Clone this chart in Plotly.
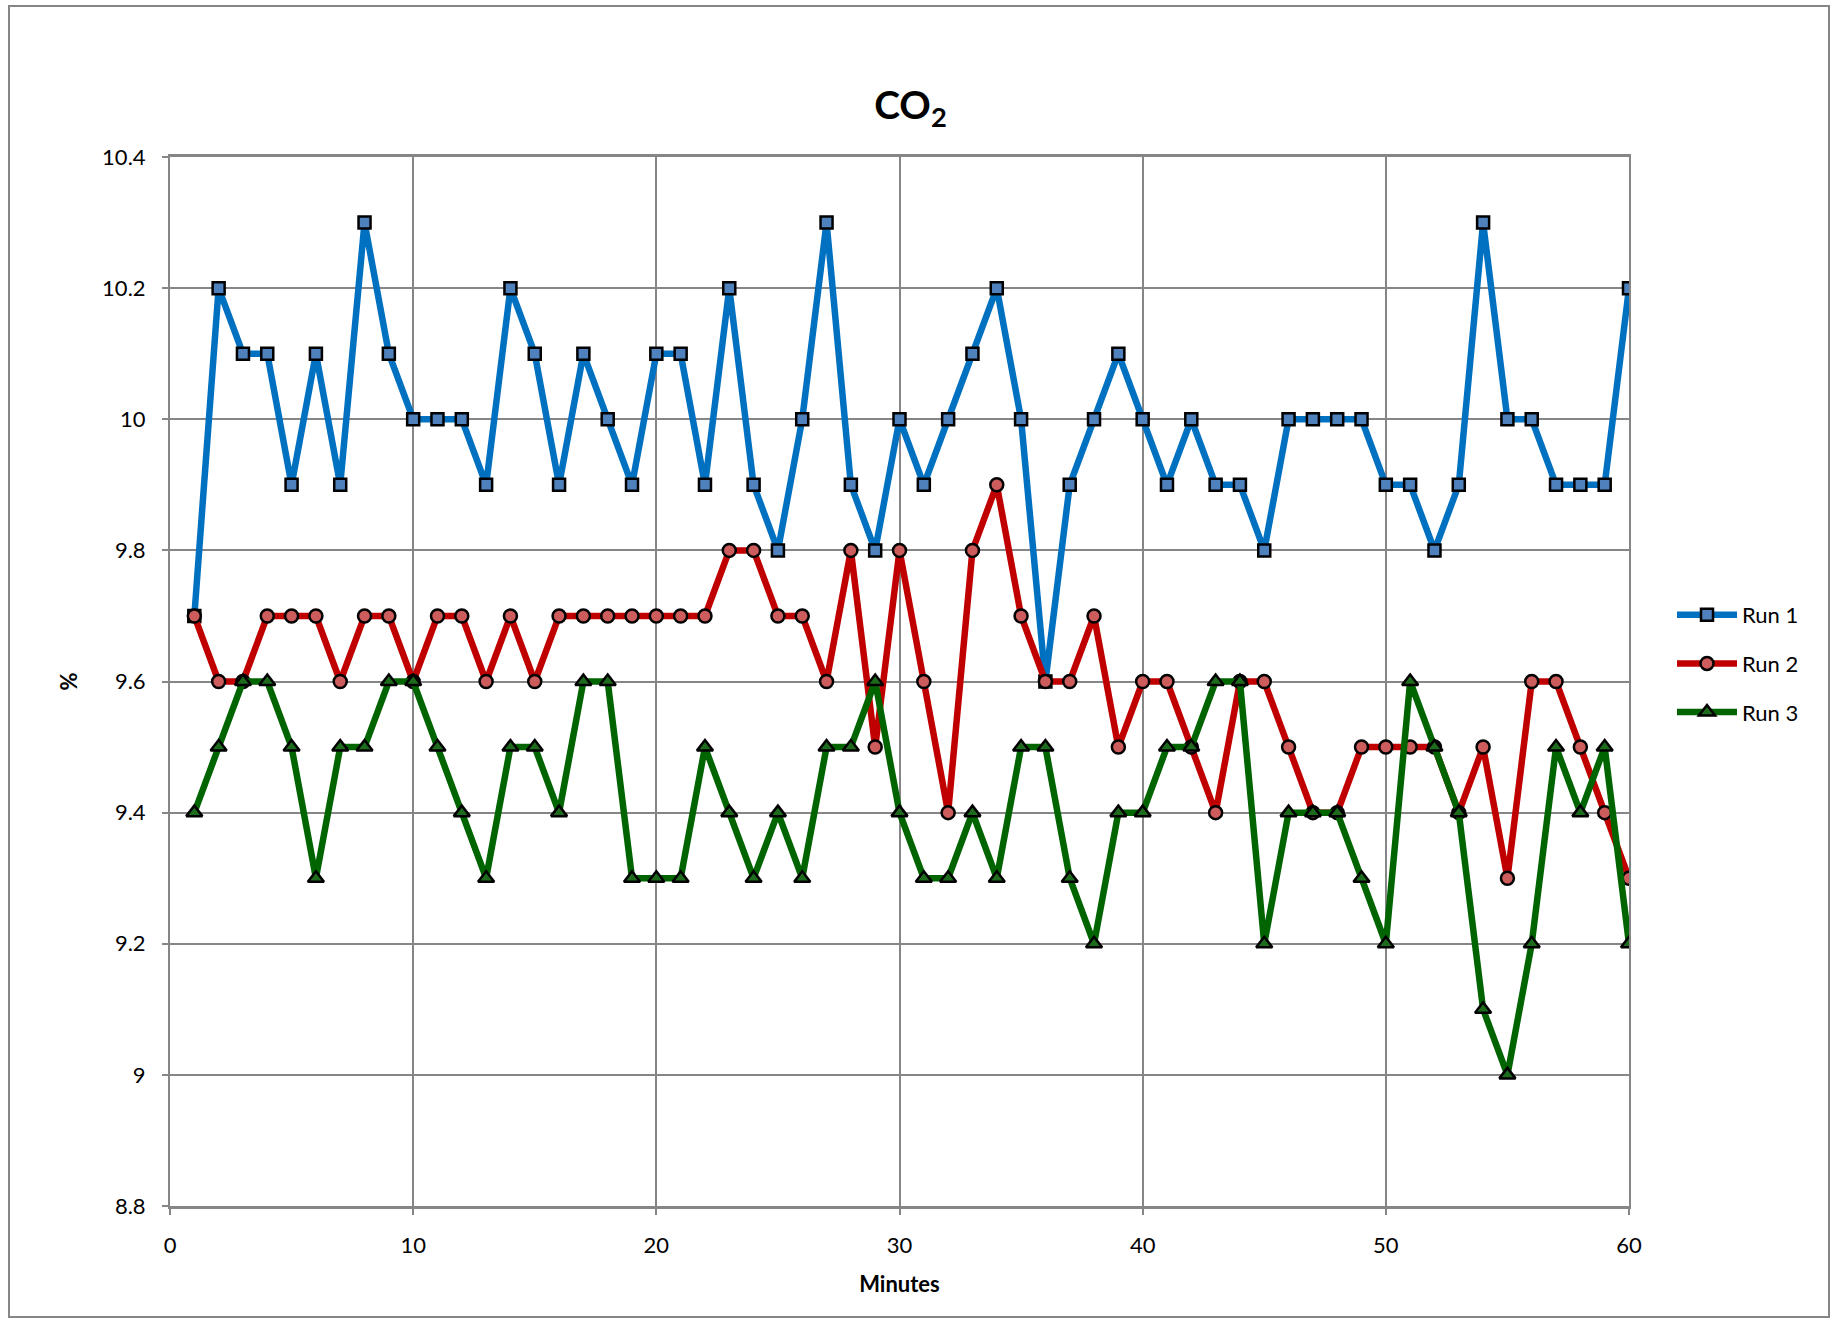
import plotly.graph_objects as go

minutes = list(range(1, 61))
run1 = [9.7, 10.2, 10.1, 10.1, 9.9, 10.1, 9.9, 10.3, 10.1, 10.0,
        10.0, 10.0, 9.9, 10.2, 10.1, 9.9, 10.1, 10.0, 9.9, 10.1,
        10.1, 9.9, 10.2, 9.9, 9.8, 10.0, 10.3, 9.9, 9.8, 10.0,
        9.9, 10.0, 10.1, 10.2, 10.0, 9.6, 9.9, 10.0, 10.1, 10.0,
        9.9, 10.0, 9.9, 9.9, 9.8, 10.0, 10.0, 10.0, 10.0, 9.9,
        9.9, 9.8, 9.9, 10.3, 10.0, 10.0, 9.9, 9.9, 9.9, 10.2]
run2 = [9.7, 9.6, 9.6, 9.7, 9.7, 9.7, 9.6, 9.7, 9.7, 9.6,
        9.7, 9.7, 9.6, 9.7, 9.6, 9.7, 9.7, 9.7, 9.7, 9.7,
        9.7, 9.7, 9.8, 9.8, 9.7, 9.7, 9.6, 9.8, 9.5, 9.8,
        9.6, 9.4, 9.8, 9.9, 9.7, 9.6, 9.6, 9.7, 9.5, 9.6,
        9.6, 9.5, 9.4, 9.6, 9.6, 9.5, 9.4, 9.4, 9.5, 9.5,
        9.5, 9.5, 9.4, 9.5, 9.3, 9.6, 9.6, 9.5, 9.4, 9.3]
run3 = [9.4, 9.5, 9.6, 9.6, 9.5, 9.3, 9.5, 9.5, 9.6, 9.6,
        9.5, 9.4, 9.3, 9.5, 9.5, 9.4, 9.6, 9.6, 9.3, 9.3,
        9.3, 9.5, 9.4, 9.3, 9.4, 9.3, 9.5, 9.5, 9.6, 9.4,
        9.3, 9.3, 9.4, 9.3, 9.5, 9.5, 9.3, 9.2, 9.4, 9.4,
        9.5, 9.5, 9.6, 9.6, 9.2, 9.4, 9.4, 9.4, 9.3, 9.2,
        9.6, 9.5, 9.4, 9.1, 9.0, 9.2, 9.5, 9.4, 9.5, 9.2]

series = [
    ("Run 1", run1, "#0070C0", "#4F81BD", "square", 12),
    ("Run 2", run2, "#C00000", "#CD5C5C", "circle", 13),
    ("Run 3", run3, "#006400", "#1E6B1E", "triangle-up", 14),
]

FONT = "Lato"
GRID = "#868686"

fig = go.Figure()
for i, (name, vals, lc, mc, sym, ms) in enumerate(series):
    fig.add_trace(go.Scatter(
        x=minutes, y=vals, name=name, mode="lines+markers",
        line=dict(color=lc, width=6.5),
        marker=dict(symbol=sym, size=ms, color=mc,
                    line=dict(color="black", width=2.5)),
        legendgroup=f"g{i}",
    ))

W, H = 1843, 1320
L, R, T, B = 170, 1629, 157, 1206
pw, ph = R - L, B - T

def px(x):
    return (x - L) / pw

def py(y):
    return (B - y) / ph

fig.update_layout(
    width=W, height=H,
    margin=dict(l=L, r=W - R, t=T, b=H - B),
    paper_bgcolor="white", plot_bgcolor="white",
    font=dict(family=FONT, size=22, color="black"),
    title=dict(text="<b>CO<sub>2</sub></b>", x=0.494, xref="container",
               xanchor="center", y=1 - 105 / H, yanchor="middle",
               font=dict(size=39, family=FONT, color="black")),
    legend=dict(x=px(1672), y=py(594), xanchor="left", yanchor="top",
                font=dict(size=22, family=FONT), traceorder="grouped",
                tracegroupgap=17, itemwidth=60, bgcolor="rgba(0,0,0,0)"),
    showlegend=True,
    xaxis=dict(
        range=[0, 60], dtick=10, tick0=0,
        showgrid=True, gridcolor=GRID, gridwidth=2,
        showline=True, linecolor=GRID, linewidth=3, mirror=True,
        ticks="outside", ticklen=6, tickcolor=GRID, tickwidth=2,
        ticklabelstandoff=12, zeroline=False,
        tickfont=dict(size=22, family=FONT),
        title=dict(text="<b>Minutes</b>", standoff=20,
                   font=dict(size=22, family=FONT)),
    ),
    yaxis=dict(
        range=[8.8, 10.4], dtick=0.2, tick0=8.8,
        showgrid=True, gridcolor=GRID, gridwidth=2,
        showline=True, linecolor=GRID, linewidth=2, mirror=True,
        ticks="outside", ticklen=6, tickcolor=GRID, tickwidth=2,
        ticklabelstandoff=12, zeroline=False,
        tickfont=dict(size=22, family=FONT),
        title=dict(text="<b>%</b>", standoff=18,
                   font=dict(size=22, family=FONT)),
    ),
    shapes=[dict(type="rect", xref="paper", yref="paper",
                 x0=px(9), x1=px(1829), y0=py(1317), y1=py(6),
                 line=dict(color=GRID, width=2), fillcolor="rgba(0,0,0,0)",
                 layer="below")],
)

fig.write_html("out.html")
